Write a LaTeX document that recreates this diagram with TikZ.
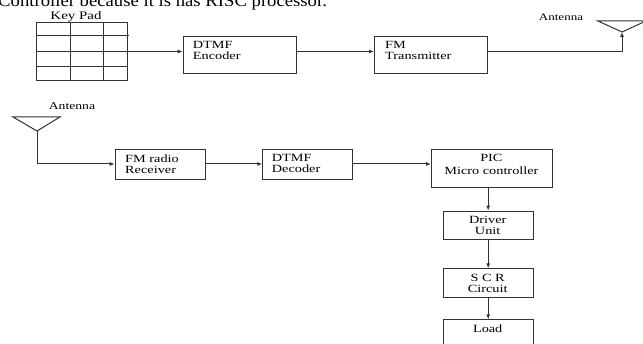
\documentclass[tikz,border=0pt]{standalone}
\usepackage{fontspec}
\setmainfont{Liberation Serif}[FakeStretch=1.3]
\newfontfamily\introfont{Liberation Serif}[FakeStretch=1.1]
\usetikzlibrary{arrows.meta,calc}
\begin{document}
\begin{tikzpicture}[x=1pt,y=-1pt,
  wire/.style={line width=1pt, draw=black!80},
  arr/.style={wire,-{Latex[length=5pt,width=4pt]}},
  blk/.style={wire, rectangle, inner sep=0pt, anchor=north west},
  lbl/.style={inner sep=0pt, anchor=north west, align=left, font=\fontsize{11}{11}\selectfont},
  clbl/.style={inner sep=0pt, anchor=north, align=center, font=\fontsize{11}{11}\selectfont},
  antlbl/.style={inner sep=0pt, font=\fontsize{10}{10}\selectfont},
]
\useasboundingbox (0,0) rectangle (643,344);
\clip (0,0) rectangle (643,344);

% running text above the diagram
\node[anchor=base west, inner sep=0pt, font=\introfont\fontsize{17}{19}\selectfont] (intro) at (-2,7)
  {Controller because it is has RISC processor.};

% ---- transmitter side ----
\node[blk, minimum width=91pt, minimum height=58.3pt] (kp) at (35.7,21.7) {};
\draw[wire] (70,21.7) -- (70,80);
\draw[wire] (103,21.7) -- (103,80);
\draw[wire] (35.7,36) -- (128.5,36);
\draw[wire] (35.7,51.7) -- (126.7,51.7);
\draw[wire] (35.7,66.7) -- (126.7,66.7);
\node[anchor=base, inner sep=0pt, font=\fontsize{11.5}{12}\selectfont] (kplbl) at (76,20) {Key Pad};

\node[blk, minimum width=113.3pt, minimum height=36.7pt] (enc) at (182.7,36) {};
\node[lbl] (enct) at (192.7,41.3) {DTMF\\Encoder};

\node[blk, minimum width=112.7pt, minimum height=36.7pt] (tx) at (374,36) {};
\node[lbl] (txt) at (385,41.3) {FM\\Transmitter};

\coordinate (ant1tip) at (622,32);
\draw[wire] (598,21) -- (646,21) -- (ant1tip) -- cycle;
\node[antlbl] (ant1lbl) at (561,17) {Antenna};

\coordinate (r1) at (0,51.5);
\draw[arr] (kp.east |- r1) -- (enc.west |- r1);
\draw[arr] (enc.east |- r1) -- (tx.west |- r1);
\draw[arr] (tx.east |- r1) -| (ant1tip);

% ---- receiver side ----
\coordinate (ant2tip) at (37,131);
\draw[wire] (13,117) -- (60,117) -- (ant2tip) -- cycle;
\node[antlbl, font=\fontsize{10.5}{11}\selectfont] (ant2lbl) at (72,106) {Antenna};

\node[blk, minimum width=90.3pt, minimum height=30pt] (rx) at (114.7,149.3) {};
\node[lbl] (rxt) at (125,154.5) {FM radio\\Receiver};

\node[blk, minimum width=89.4pt, minimum height=29.7pt] (dec) at (262.3,149.3) {};
\node[lbl] (dect) at (271.7,154.5) {DTMF\\Decoder};

\node[blk, minimum width=120.7pt, minimum height=38pt] (pic) at (431,149.3) {};
\node[clbl, font=\fontsize{11}{12.5}\selectfont] (pict) at (491.4,154.5) {PIC\\Micro controller};

\node[blk, minimum width=90pt, minimum height=28.6pt] (drv) at (442.7,210.7) {};
\node[clbl] (drvt) at (487.7,216.3) {Driver\\Unit};

\node[blk, minimum width=90pt, minimum height=28.4pt] (scr) at (442.7,268.3) {};
\node[clbl] (scrt) at (487.7,274) {S C R\\Circuit};

\node[blk, minimum width=90pt, minimum height=40pt] (load) at (442.7,319.3) {};
\node[clbl] (loadt) at (487.7,324.6) {Load};

\coordinate (r2) at (0,164);
\draw[arr] (ant2tip) |- (rx.west |- r2);
\draw[arr] (rx.east |- r2) -- (dec.west |- r2);
\draw[arr] (dec.east |- r2) -- (pic.west |- r2);
\draw[arr] (drv.north |- pic.south) -- (drv.north);
\draw[arr] (drv.south) -- (scr.north);
\draw[arr] (scr.south) -- (load.north);
\end{tikzpicture}
\end{document}
